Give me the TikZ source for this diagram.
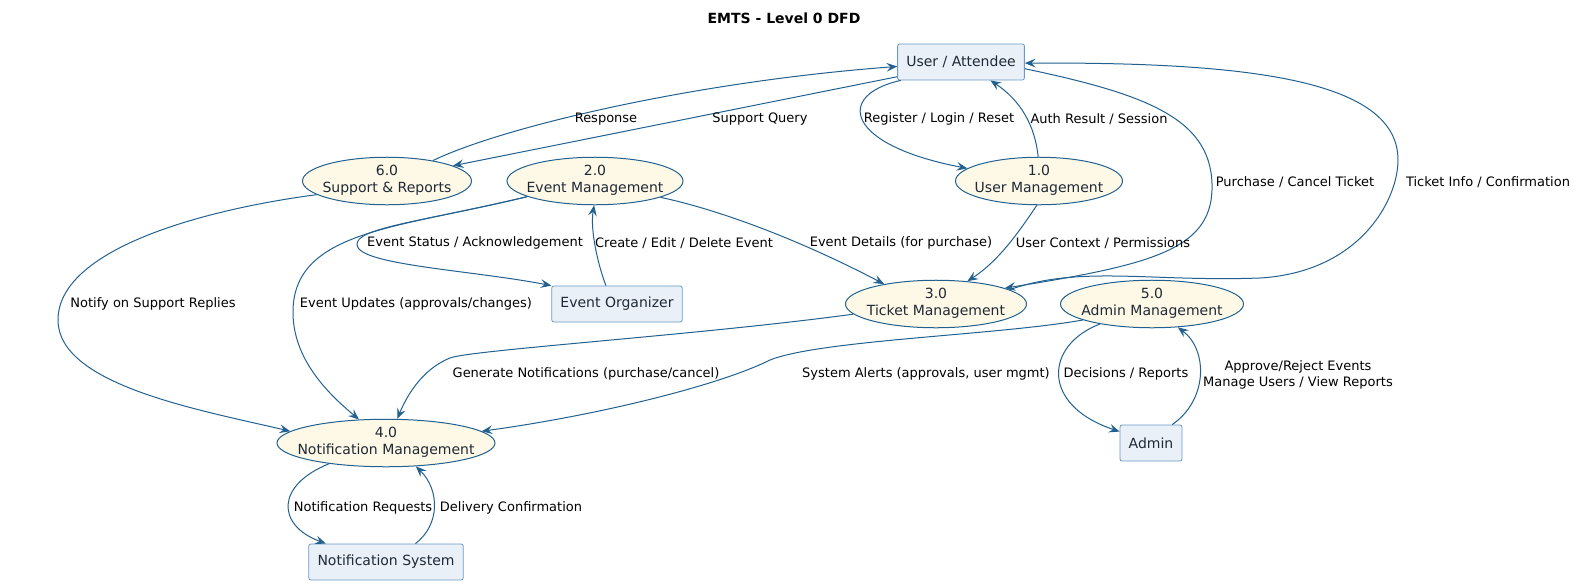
\documentclass[tikz,border=0pt]{standalone}
\usepackage{fontspec}
\setmainfont{DejaVu Sans}
\usetikzlibrary{shapes.geometric,arrows.meta}
\definecolor{flowblue}{HTML}{22618F}
\definecolor{procfill}{HTML}{FEF8E6}
\definecolor{extfill}{HTML}{E9F0F8}
\definecolor{extline}{HTML}{6A9AC6}
\definecolor{inktext}{HTML}{1F2A36}
\newcommand{\proctext}[2]{\makebox[0pt]{\begin{tabular}{@{}c@{}}#1\\#2\end{tabular}}}

\begin{document}
\begin{tikzpicture}[x=0.75pt, y=-0.75pt,
	proc/.style={ellipse, draw=flowblue, fill=procfill, line width=.75pt, inner sep=0pt, minimum height=34.5pt, minimum width=#1, text=inktext, font=\fontsize{10.5}{12.6}\selectfont},
	ext/.style={rectangle, draw=extline, fill=extfill, rounded corners=1.5pt, line width=.6pt, minimum height=27pt, inner xsep=6.5pt, text=inktext, font=\fontsize{10.5}{12.6}\selectfont},
	flow/.style={draw=flowblue, line width=.75pt, -{Stealth[length=8pt,width=6.5pt,inset=3pt]}},
	lbl/.style={inner sep=0pt, font=\fontsize{9.75}{11.5}\selectfont, align=center}]
	\useasboundingbox (0,0) rectangle (1579,586);
	\node[font=\bfseries\fontsize{10.5}{12.6}\selectfont] (title) at (784,18) {EMTS - Level 0 DFD};
	\node[ext] (userAttendee) at (961,62) {User / Attendee};
	\node[proc=126.75pt] (supportRep) at (387,181) {\proctext{6.0}{Support \& Reports}};
	\node[proc=132pt] (eventMgmt) at (595,181) {\proctext{2.0}{Event Management}};
	\node[proc=125.25pt] (userMgmt) at (1039,181) {\proctext{1.0}{User Management}};
	\node[proc=135.75pt] (ticketMgmt) at (936,304) {\proctext{3.0}{Ticket Management}};
	\node[proc=137.25pt] (adminMgmt) at (1152,304) {\proctext{5.0}{Admin Management}};
	\node[ext] (eventOrg) at (617,304) {Event Organizer};
	\node[proc=163.5pt] (notifMgmt) at (386,443) {\proctext{4.0}{Notification Management}};
	\node[ext] (admin) at (1151,443) {Admin};
	\node[ext] (notifSys) at (386,562) {Notification System};
	\draw[flow] (userAttendee.193) -- (supportRep.13);
	\draw[flow] (supportRep.24) .. controls (500,128) and (690,82) .. (userAttendee.184);
	\draw[flow] (userAttendee.197) .. controls (835,95) and (845,145) .. (userMgmt.170);
	\draw[flow] (userMgmt.92) .. controls (1035,125) and (1020,100) .. (userAttendee.328);
	\draw[flow] (userAttendee.354) .. controls (1150,95) and (1214,120) .. (1212,190) .. controls (1210,250) and (1150,265) .. (ticketMgmt.13);
	\draw[flow] (ticketMgmt.11) .. controls (1080,265) and (1150,282) .. (1260,278) .. controls (1360,272) and (1398,200) .. (1398,160) .. controls (1398,80) and (1250,62) .. (userAttendee.359);
	\draw[flow] (eventMgmt.193) .. controls (420,222) and (355,228) .. (357,245) .. controls (359,265) and (470,270) .. (eventOrg.north west);
	\draw[flow] (eventOrg.121) .. controls (598,265) and (590,230) .. (eventMgmt.268);
	\draw[flow] (eventMgmt.346) .. controls (720,210) and (800,240) .. (ticketMgmt.159);
	\draw[flow] (userMgmt.265) .. controls (1020,230) and (1000,260) .. (ticketMgmt.36);
	\draw[flow] (supportRep.191) .. controls (200,210) and (58,250) .. (58,320) .. controls (58,385) and (200,410) .. (notifMgmt.173);
	\draw[flow] (eventMgmt.193) .. controls (400,228) and (295,230) .. (293,310) .. controls (292,360) and (330,395) .. (notifMgmt.139);
	\draw[flow] (ticketMgmt.187) .. controls (700,335) and (470,350) .. (450,358) .. controls (420,370) and (405,400) .. (notifMgmt.65);
	\draw[flow] (adminMgmt.193) .. controls (1000,335) and (820,340) .. (770,360) .. controls (720,385) and (600,415) .. (notifMgmt.7);
	\draw[flow] (adminMgmt.201) .. controls (1045,345) and (1040,405) .. (admin.160);
	\draw[flow] (admin.41) .. controls (1208,400) and (1208,350) .. (adminMgmt.318);
	\draw[flow] (notifMgmt.200) .. controls (276,485) and (276,525) .. (notifSys.163);
	\draw[flow] (notifSys.32) .. controls (440,525) and (440,490) .. (notifMgmt.322);
	\node[lbl] (lblResponse) at (606,119) {Response};
	\node[lbl] (lblQuery) at (760,119) {Support Query};
	\node[lbl] (lblRegister) at (939,119) {Register / Login / Reset};
	\node[lbl] (lblAuth) at (1099,119) {Auth Result / Session};
	\node[lbl] (lblPurchase) at (1295,182) {Purchase / Cancel Ticket};
	\node[lbl] (lblTicketInfo) at (1488,182) {Ticket Info / Confirmation};
	\node[lbl] (lblStatus) at (475,243) {Event Status / Acknowledgement};
	\node[lbl] (lblCreate) at (684,243) {Create / Edit / Delete Event};
	\node[lbl] (lblDetails) at (901,243) {Event Details (for purchase)};
	\node[lbl] (lblContext) at (1103,243) {User Context / Permissions};
	\node[lbl] (lblNotify) at (153,304) {Notify on Support Replies};
	\node[lbl] (lblUpdates) at (416,304) {Event Updates (approvals/changes)};
	\node[lbl] (lblGenerate) at (586,374) {Generate Notifications (purchase/cancel)};
	\node[lbl] (lblAlerts) at (926,374) {System Alerts (approvals, user mgmt)};
	\node[lbl] (lblDecisions) at (1126,374) {Decisions / Reports};
	\node[lbl] (lblApprove) at (1298,375) {Approve/Reject Events\\Manage Users / View Reports};
	\node[lbl] (lblRequests) at (363,508) {Notification Requests};
	\node[lbl] (lblDelivery) at (511,508) {Delivery Confirmation};
\end{tikzpicture}
\end{document}
